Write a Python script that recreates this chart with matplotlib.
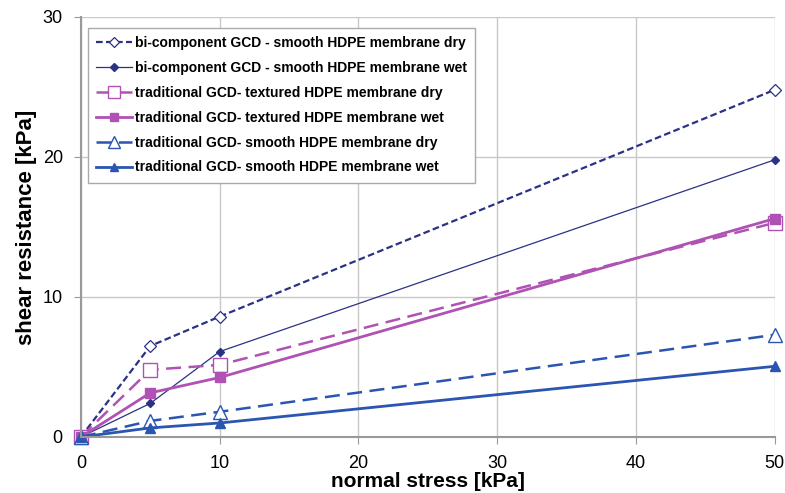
import matplotlib
matplotlib.use('Agg')
import matplotlib.pyplot as plt

plt.rcParams['font.family'] = ['Liberation Sans', 'DejaVu Sans']

# Data
normal_stress = [0, 5, 10, 50]
bi_smooth_dry = [0, 6.5, 8.6, 24.8]
bi_smooth_wet = [0, 2.4, 6.1, 19.8]
trad_textured_dry = [0, 4.8, 5.15, 15.3]
trad_textured_wet = [0, 3.15, 4.25, 15.6]
trad_smooth_dry = [0, 1.15, 1.8, 7.3]
trad_smooth_wet = [0, 0.65, 1.0, 5.05]

labels = [
    'bi-component GCD - smooth HDPE membrane dry',
    'bi-component GCD - smooth HDPE membrane wet',
    'traditional GCD- textured HDPE membrane dry',
    'traditional GCD- textured HDPE membrane wet',
    'traditional GCD- smooth HDPE membrane dry',
    'traditional GCD- smooth HDPE membrane wet',
]

navy = '#2b3284'
purple = '#b052b4'
blue = '#2a55b0'

fig = plt.figure(figsize=(7.85, 4.93), dpi=100)
ax = fig.add_axes([0.103, 0.1136, 0.884, 0.852])

ax.plot(normal_stress, bi_smooth_dry, color=navy, linestyle=(0, (3, 1.5)), linewidth=1.6,
        marker='D', markersize=6, markerfacecolor='white', markeredgecolor=navy,
        markeredgewidth=0.9, label=labels[0], clip_on=False)
ax.plot(normal_stress, bi_smooth_wet, color=navy, linestyle='-', linewidth=0.9,
        marker='D', markersize=4.5, markerfacecolor=navy, markeredgecolor=navy,
        label=labels[1], clip_on=False)
ax.plot(normal_stress, trad_textured_dry, color=purple, linestyle=(0, (6, 3)), linewidth=1.8,
        marker='s', markersize=10, markerfacecolor='white', markeredgecolor=purple,
        markeredgewidth=1.0, label=labels[2], clip_on=False)
ax.plot(normal_stress, trad_textured_wet, color=purple, linestyle='-', linewidth=2.0,
        marker='s', markersize=7, markerfacecolor=purple, markeredgecolor=purple,
        label=labels[3], clip_on=False)
ax.plot(normal_stress, trad_smooth_dry, color=blue, linestyle=(0, (6, 3)), linewidth=1.8,
        marker='^', markersize=10, markerfacecolor='white', markeredgecolor=blue,
        markeredgewidth=1.0, label=labels[4], clip_on=False)
ax.plot(normal_stress, trad_smooth_wet, color=blue, linestyle='-', linewidth=2.0,
        marker='^', markersize=7, markerfacecolor=blue, markeredgecolor=blue,
        label=labels[5], clip_on=False)

ax.set_xlim(0, 50)
ax.set_ylim(0, 30)
ax.set_xticks([0, 10, 20, 30, 40, 50])
ax.set_yticks([0, 10, 20, 30])
ax.tick_params(axis='both', labelsize=13, length=5, color='#999999', direction='out', pad=8)
ax.grid(True, color='#c8c8c8', linewidth=1.0)
ax.set_axisbelow(True)
for side in ['top', 'right']:
    ax.spines[side].set_visible(False)
for side in ['left', 'bottom']:
    ax.spines[side].set_color('#999999')
    ax.spines[side].set_linewidth(1.5)

ax.set_xlabel('normal stress [kPa]', fontsize=15, fontweight='bold', labelpad=0)
ax.set_ylabel('shear resistance [kPa]', fontsize=16, fontweight='bold', labelpad=4)

leg = ax.legend(loc='upper left', bbox_to_anchor=(0.01, 0.974), borderaxespad=0,
                prop={'weight': 'bold', 'size': 10}, frameon=True, fancybox=False,
                edgecolor='#aaaaaa', framealpha=1, handlelength=2.6, handletextpad=0.2,
                labelspacing=0.78, borderpad=0.6, markerscale=0.8)
leg.get_frame().set_linewidth(1.0)

fig.savefig('out.png', dpi=100)
